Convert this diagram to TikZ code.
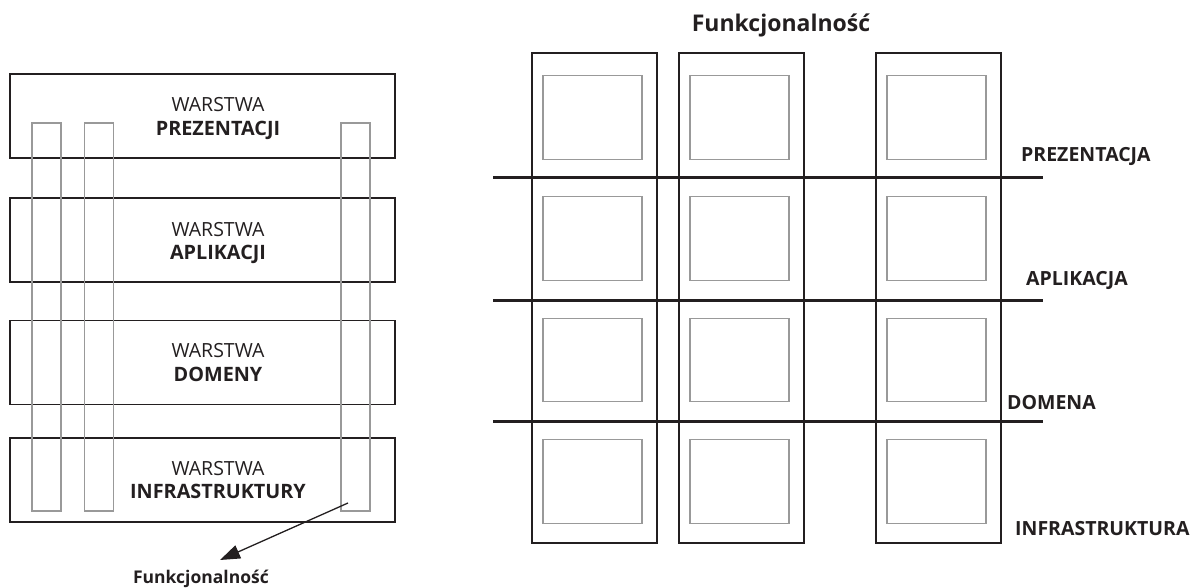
\documentclass[tikz,border=0pt]{standalone}
\usepackage{fontspec}
\setmainfont{Open Sans}
\usetikzlibrary{arrows.meta}
\definecolor{ink}{HTML}{231F20}
\definecolor{lgray}{HTML}{999999}
\tikzset{
  layerbox/.style={draw=ink, line width=1.4pt, inner sep=0pt, minimum width=385pt, minimum height=84pt},
  funcol/.style={draw=lgray, line width=1.4pt, inner sep=0pt, minimum width=29pt, minimum height=388pt},
  outercol/.style={draw=ink, line width=1.4pt, inner sep=0pt, minimum width=125pt, minimum height=490pt},
  cell/.style={draw=lgray, line width=1.4pt, inner sep=0pt, minimum width=99pt, minimum height=83.5pt},
  warlabel/.style={inner sep=0pt, anchor=base, text=ink, font=\fontsize{19.5}{23}\selectfont},
  boldlabel/.style={inner sep=0pt, anchor=base, text=ink, font=\fontsize{19.8}{23}\selectfont\bfseries},
  sidelabel/.style={inner sep=0pt, anchor=base west, text=ink, font=\fontsize{19.5}{23}\selectfont\bfseries},
  divider/.style={draw=ink, line width=3pt},
  pointer/.style={draw=ink, line width=1.3pt, -{Triangle[length=20pt,width=14pt]}}
}
\begin{document}
\begin{tikzpicture}[x=1pt,y=-1pt]
\useasboundingbox (0,0) rectangle (1194,588);
% ---------- left: layers ----------
\node[layerbox] (L1) at (202.5,116) {};
\node[layerbox] (L2) at (202.5,240) {};
\node[layerbox] (L3) at (202.5,362.5) {};
\node[layerbox] (L4) at (202.5,480) {};
\node[warlabel] (w1) at (218,111.5) {WARSTWA};
\node[boldlabel] (b1) at (218,135.5) {PREZENTACJI};
\node[warlabel] (w2) at (218,236.5) {WARSTWA};
\node[boldlabel] (b2) at (218,259) {APLIKACJI};
\node[warlabel] (w3) at (218,357) {WARSTWA};
\node[boldlabel] (b3) at (218,381) {DOMENY};
\node[warlabel] (w4) at (218,475) {WARSTWA};
\node[boldlabel] (b4) at (218,498) {INFRASTRUKTURY};
% functional columns
\node[funcol] (F1) at (46.5,317) {};
\node[funcol] (F2) at (99,317) {};
\node[funcol] (F3) at (355.5,317) {};
% arrow and label
\node[boldlabel, font=\fontsize{17.5}{21}\selectfont\bfseries] (flabel) at (201,583) {Funkcjonalność};
\coordinate (fsrc) at (348,503);
\coordinate (ftip) at (220,560);
\draw[pointer] (fsrc) -- (ftip);
% ---------- right: matrix ----------
\node[boldlabel, font=\fontsize{23}{27}\selectfont\bfseries] (title) at (781,32) {Funkcjonalność};
\node[outercol] (CA) at (594.5,298) {};
\node[outercol] (CB) at (741.5,298) {};
\node[outercol] (CC) at (938.5,298) {};
\foreach \r/\y in {1/117.5,2/238.5,3/360,4/481.5}{
  \node[cell] (A\r) at (592.5,\y) {};
  \node[cell] (B\r) at (739.5,\y) {};
  \node[cell] (C\r) at (936.5,\y) {};
}
\coordinate (d1a) at (493,178);  \coordinate (d1b) at (1043,178);
\coordinate (d2a) at (493,300);  \coordinate (d2b) at (1043,300);
\coordinate (d3a) at (493,421);  \coordinate (d3b) at (1043,421);
\draw[divider] (d1a) -- (d1b);
\draw[divider] (d2a) -- (d2b);
\draw[divider] (d3a) -- (d3b);
\node[sidelabel] (s1) at (1021,162) {PREZENTACJA};
\node[sidelabel] (s2) at (1026,285) {APLIKACJA};
\node[sidelabel] (s3) at (1007,409) {DOMENA};
\node[sidelabel] (s4) at (1015,535) {INFRASTRUKTURA};
\end{tikzpicture}
\end{document}
